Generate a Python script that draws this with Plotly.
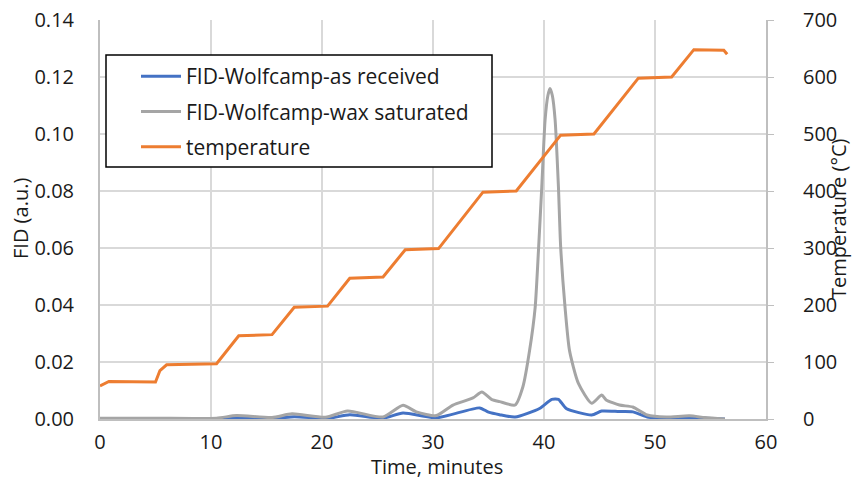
import plotly.graph_objects as go

# ---- data ----
time_temp = [0, 0.8, 5.0, 5.4, 6.0, 10.5, 12.5, 15.5, 17.5, 20.5, 22.5, 25.5, 27.5, 30.5,
             34.5, 37.5, 41.5, 44.5, 48.5, 51.5, 53.5, 56.2, 56.5]
temperature = [58, 66, 65, 85, 95, 97, 146, 148, 196, 198, 247, 249, 297, 299,
               398, 400, 498, 500, 598, 600, 648, 647, 640]

time_wax = [0, 5, 10.5, 12.3, 15.5, 17.3, 20.3, 22.3, 25.5, 27.3, 28.5, 30.3, 31.8, 33.6,
            34.4, 35.3, 36.0, 37.4, 38.1, 38.7, 39.2, 39.5, 39.8, 40.1, 40.35, 40.54, 40.75,
            41.0, 41.3, 41.5, 41.9, 42.3, 43.1, 44.3, 45.2, 45.6, 46.8, 48.0, 49.3, 51.0,
            53.1, 54.5, 56.3]
fid_wax = [0.0003, 0.0003, 0.0003, 0.0012, 0.0005, 0.0018, 0.0006, 0.0028, 0.0007, 0.0048,
           0.0025, 0.0012, 0.0049, 0.0074, 0.0095, 0.0068, 0.0061, 0.0049, 0.0113, 0.024,
           0.039, 0.059, 0.0815, 0.105, 0.1135, 0.116, 0.1135, 0.105, 0.0815, 0.0605, 0.039,
           0.024, 0.0125, 0.0055, 0.0084, 0.0067, 0.0049, 0.0042, 0.0014, 0.0007, 0.0011,
           0.0005, 0.0]

time_asrec = [0, 10.5, 12.5, 15.5, 17.5, 20.5, 22.5, 25.5, 27.3, 30.3, 34.2, 35.0, 36.0,
              37.4, 39.6, 40.7, 41.3, 42.0, 44.3, 45.2, 46.8, 48.0, 49.3, 51.0, 53.0, 56.3]
fid_asrec = [0.0, 0.0, 0.0003, 0.0001, 0.0008, 0.0002, 0.0015, 0.0003, 0.0021, 0.0004,
             0.0039, 0.0024, 0.0015, 0.0007, 0.0037, 0.0069, 0.0069, 0.0037, 0.0014, 0.0028,
             0.0026, 0.0025, 0.0007, 0.0002, 0.0004, 0.0]

FONT = "Open Sans"
GRID = "#D9D9D9"
AXLINE = "#BFBFBF"
TXT = "#1a1a1a"

W, H = 854, 481
L, R, T, B = 100, 88, 20, 62
PW, PH = W - L - R, H - T - B


def px_x(p):  # pixel -> paper x
    return (p - L) / PW


def px_y(p):  # pixel -> paper y
    return (H - B - p) / PH


fig = go.Figure()
fig.add_trace(go.Scatter(x=time_asrec, y=fid_asrec, mode="lines",
                         name="FID-Wolfcamp-as received", legendgroup="a",
                         line=dict(color="#4472C4", width=3, shape="spline", smoothing=0.6)))
fig.add_trace(go.Scatter(x=time_wax, y=fid_wax, mode="lines",
                         name="FID-Wolfcamp-wax saturated", legendgroup="b",
                         line=dict(color="#A5A5A5", width=3, shape="spline", smoothing=0.6)))
fig.add_trace(go.Scatter(x=time_temp, y=temperature, mode="lines", yaxis="y2",
                         name="temperature", legendgroup="c",
                         line=dict(color="#ED7D31", width=3)))

fig.update_layout(
    width=W, height=H,
    margin=dict(l=L, r=R, t=T, b=B, autoexpand=False),
    paper_bgcolor="white", plot_bgcolor="white",
    font=dict(family=FONT, size=20, color=TXT),
    xaxis=dict(range=[0, 60], dtick=10, showgrid=True, gridcolor=GRID, gridwidth=1.5,
               showline=True, linecolor=AXLINE, linewidth=2, zeroline=False,
               ticks="", ticklabelstandoff=4, automargin=False),
    yaxis=dict(range=[0, 0.14], dtick=0.02, tickformat=".2f", showgrid=True,
               gridcolor=GRID, gridwidth=1.5, showline=True, linecolor=AXLINE,
               linewidth=2, zeroline=False, ticks="", ticklabelstandoff=20,
               automargin=False),
    yaxis2=dict(range=[0, 700], dtick=100, overlaying="y", side="right",
                showgrid=False, showline=True, linecolor=AXLINE, linewidth=2,
                zeroline=False, ticks="outside", ticklen=6, tickcolor=AXLINE,
                ticklabelstandoff=25, automargin=False),
    legend=dict(x=px_x(136), y=px_y(56), xanchor="left", yanchor="top",
                bgcolor="rgba(0,0,0,0)", borderwidth=0,
                font=dict(size=21), traceorder="grouped", tracegroupgap=5,
                itemwidth=40),
    showlegend=True,
    shapes=[dict(type="rect", xref="paper", yref="paper",
                 x0=px_x(106), x1=px_x(492), y0=px_y(167), y1=px_y(55),
                 line=dict(color="black", width=1.5), fillcolor="white", layer="above")],
    annotations=[
        dict(text="FID (a.u.)", xref="paper", yref="paper", x=px_x(20), y=px_y(219),
             xanchor="center", yanchor="middle", textangle=-90, showarrow=False,
             font=dict(size=20, color=TXT)),
        dict(text="Temperature (°C)", xref="paper", yref="paper", x=px_x(838), y=px_y(219),
             xanchor="center", yanchor="middle", textangle=-90, showarrow=False,
             font=dict(size=20, color=TXT)),
        dict(text="Time, minutes", xref="paper", yref="paper", x=px_x(437), y=px_y(481),
             xanchor="center", yanchor="bottom", showarrow=False, borderpad=0,
             font=dict(size=20, color=TXT)),
    ],
)

fig.write_html("out.html", config={"displayModeBar": False},
               post_script="document.body.style.margin='0px';")
